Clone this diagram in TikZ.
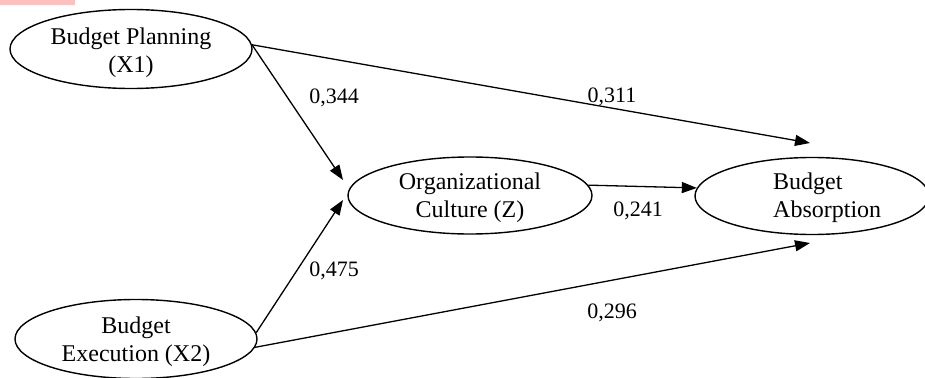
\documentclass[tikz,border=0pt]{standalone}
\usepackage{fontspec}
\setmainfont{Liberation Serif}
\usetikzlibrary{shapes.geometric,arrows.meta}
\begin{document}
\begin{tikzpicture}[x=1pt,y=-1pt,
  oval/.style={ellipse,draw,line width=1.4pt,minimum width=242pt,minimum height=79pt,inner sep=0pt},
  txt/.style={align=center,inner sep=0pt,font=\fontsize{24}{28}\selectfont},
  conn/.style={line width=1.3pt,-{Triangle[length=15pt,width=11pt]}},
  lab/.style={font=\fontsize{22}{25}\selectfont,inner sep=0pt}]
\useasboundingbox (0,0) rectangle (925,377);
\fill[red!25] (0,0) rectangle (75,5);
\node[oval] (x1) at (131,49) {};
\node[txt] (x1t) at (131,53) {Budget Planning\\(X1)};
\node[oval] (x2) at (136,339) {};
\node[txt] (x2t) at (136,342) {Budget\\Execution (X2)};
\node[oval,minimum width=244pt,minimum height=77pt] (z) at (470,195.5) {};
\node[txt] (zt) at (470,198) {Organizational\\Culture (Z)};
\node[oval,minimum width=234pt,minimum height=77pt] (y) at (812,196) {};
\node[txt,align=left,anchor=west] (yt) at (773,198) {Budget\\Absorption};
\coordinate (t1) at (343,180);
\coordinate (t2) at (343,200);
\coordinate (t3) at (810,143);
\coordinate (t4) at (810,243);
\draw[conn] (x1.2) -- (t1);
\draw[conn] (x1.2) -- (t3);
\draw[conn] (x2.3) -- (t2);
\draw[conn] (x2.-4) -- (t4);
\draw[conn] (z.5) -- (y.176);
\node[lab] (l1) at (334,98) {0,344};
\node[lab] (l2) at (612,97) {0,311};
\node[lab] (l3) at (638,211) {0,241};
\node[lab] (l4) at (334,271) {0,475};
\node[lab] (l5) at (612,313) {0,296};
\end{tikzpicture}
\end{document}
